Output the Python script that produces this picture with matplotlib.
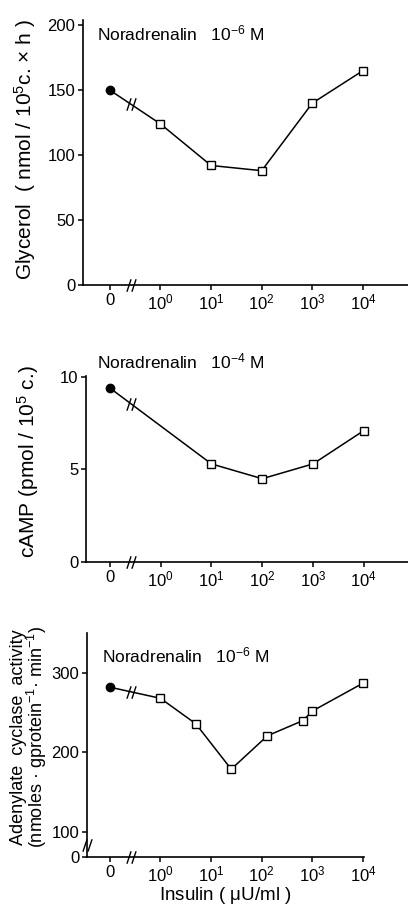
import numpy as np
import matplotlib
matplotlib.use('Agg')
import matplotlib.pyplot as plt
from matplotlib.path import Path

plt.rcParams['font.family'] = ['Liberation Sans', 'DejaVu Sans']
plt.rcParams['mathtext.fontset'] = 'custom'
plt.rcParams['mathtext.rm'] = 'Liberation Sans'
plt.rcParams['mathtext.it'] = 'Liberation Sans'
plt.rcParams['mathtext.default'] = 'regular'

# data (insulin in uU/ml, 0 = no insulin)
glycerol_insulin = [0, 1, 10, 100, 1000, 10000]
glycerol_values = [150, 124, 92, 88, 140, 165]

camp_insulin = [0, 10, 100, 1000, 10000]
camp_values = [9.4, 5.3, 4.5, 5.3, 7.1]

ac_insulin = [0, 1, 5, 25, 130, 650, 1000, 10000]
ac_values = [282, 268, 236, 179, 221, 240, 252, 287]

tick_labels = ['0', '$10^0$', '$10^1$', '$10^2$', '$10^3$', '$10^4$']
tick_pos = [-1, 0, 1, 2, 3, 4]
BRK = -0.58


def to_pos(ins):
    ins = np.asarray(ins, dtype=float)
    out = np.full(ins.shape, -1.0)
    out[ins > 0] = np.log10(ins[ins > 0])
    return out


brk_marker = Path([(-2.2, -3), (-0.2, 3), (0.2, -3), (2.2, 3)],
                  [Path.MOVETO, Path.LINETO, Path.MOVETO, Path.LINETO])


def style(ax):
    for s in ['top', 'right']:
        ax.spines[s].set_visible(False)
    for s in ['left', 'bottom']:
        ax.spines[s].set_linewidth(1.2)
    ax.tick_params(direction='out', length=3.5, width=1.1, labelsize=12, pad=2)
    ax.set_xticks(tick_pos)
    ax.set_xticklabels(tick_labels)


def curve(ax, ins, vals):
    x = to_pos(ins)
    ax.plot(x, vals, color='black', lw=1.1, zorder=2, clip_on=False)
    ax.plot(x[1:], vals[1:], 's', ms=5.5, mfc='white', mec='black', mew=1.0, zorder=3,
            clip_on=False)
    ax.plot(x[:1], vals[:1], 'o', ms=6, color='black', zorder=3, clip_on=False)
    ybrk = np.interp(BRK, x[:2], vals[:2])
    ax.plot([BRK], [ybrk], marker=brk_marker, ms=9, mfc='none', mec='black', mew=1.0, zorder=4)
    ax.plot([BRK], [ax.get_ylim()[0]], marker=brk_marker, ms=9, mfc='none', mec='black',
            mew=1.0, clip_on=False, zorder=4)


fig = plt.figure(figsize=(4.08, 9.05), dpi=100)

# panel 1: glycerol
ax1 = fig.add_axes([83 / 408, 1 - 285 / 905, 325 / 408, 265 / 905])
ax1.set_xlim(-1.53, 4.89)
ax1.set_ylim(0, 204)
ax1.set_yticks([0, 50, 100, 150, 200])
style(ax1)
curve(ax1, glycerol_insulin, glycerol_values)
ax1.text(0.043, 0.95, 'Noradrenalin   $10^{-6}$ M', transform=ax1.transAxes,
         fontsize=12.5, va='center', ha='left')
ax1.set_ylabel('Glycerol  ( nmol / $10^5$c. × h )', fontsize=15)
ax1.yaxis.set_label_coords(-0.138, 0.51)

# panel 2: cAMP
ax2 = fig.add_axes([86 / 408, 1 - 562 / 905, 322 / 408, 186 / 905])
ax2.set_xlim(-1.47, 4.87)
ax2.set_ylim(0, 10.05)
ax2.set_yticks([0, 5, 10])
style(ax2)
curve(ax2, camp_insulin, camp_values)
ax2.text(0.035, 1.08, 'Noradrenalin   $10^{-4}$ M', transform=ax2.transAxes,
         fontsize=12.5, va='center', ha='left')
ax2.set_ylabel('cAMP (pmol / $10^5$ c.)', fontsize=15)
ax2.yaxis.set_label_coords(-0.14, 0.54)

# panel 3: adenylate cyclase, broken y axis (0 drawn just below 100)
zero3 = 68.75
ax3 = fig.add_axes([87 / 408, 1 - 857 / 905, 277 / 408, 224 / 905])
ax3.set_xlim(-1.45, 4.02)
ax3.set_ylim(zero3, 350)
ax3.set_yticks([zero3, 100, 200, 300])
ax3.set_yticklabels(['0', '100', '200', '300'])
style(ax3)
curve(ax3, ac_insulin, ac_values)
ax3.plot([-1.45], [83.75], marker=brk_marker, ms=9, mfc='none', mec='black', mew=1.0,
         clip_on=False, zorder=4)
ax3.text(0.054, 0.90, 'Noradrenalin   $10^{-6}$ M', transform=ax3.transAxes,
         fontsize=12.5, va='center', ha='left')
ax3.set_ylabel('Adenylate  cyclase  activity\n(nmoles · gprotein$^{-1}$· min$^{-1}$)',
               fontsize=13, linespacing=0.9)
ax3.yaxis.set_label_coords(-0.137, 0.536)
ax3.set_xlabel('Insulin ( $\\mu$U/ml )', fontsize=13.5, labelpad=0)

fig.savefig('out.png', dpi=100)
